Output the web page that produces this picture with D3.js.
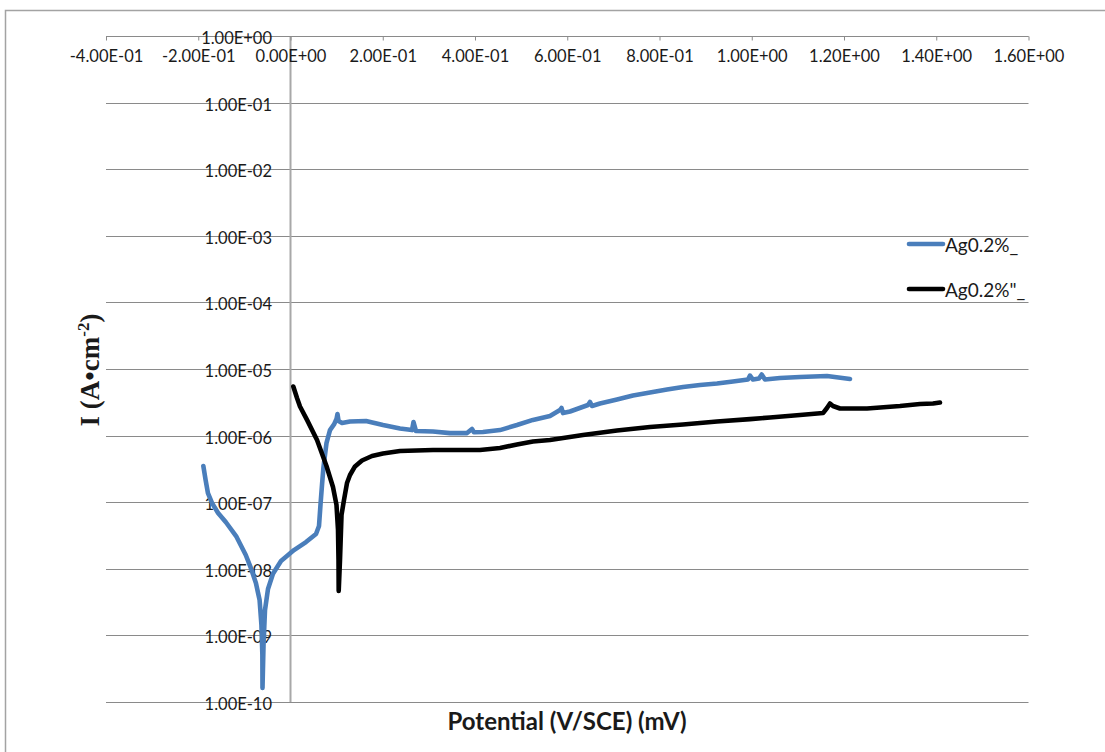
<!DOCTYPE html>
<html>
<head>
<meta charset="utf-8">
<script src="https://cdn.jsdelivr.net/npm/d3@7"></script>
<style>
  html, body { margin: 0; padding: 0; background: #fff; }
  svg { display: block; }
</style>
</head>
<body>
<svg id="chart" width="1105" height="752"></svg>
<script>
// Polarization curves: potential (V vs SCE) against current density (log scale)
const xTicks = [-0.4, -0.2, 0, 0.2, 0.4, 0.6, 0.8, 1.0, 1.2, 1.4, 1.6];
const yTicks = [1e0, 1e-1, 1e-2, 1e-3, 1e-4, 1e-5, 1e-6, 1e-7, 1e-8, 1e-9, 1e-10];
const seriesNames = ["Ag0.2%_", "Ag0.2%\"_"];
const seriesColors = ["#4a7ebb", "#000000"];

// Ag0.2%_ sweep
const potentialA = [-0.189, -0.184, -0.179, -0.170, -0.157, -0.140, -0.118, -0.097, -0.086, -0.075,
  -0.067, -0.063, -0.061, -0.0607, -0.0585, -0.0553, -0.0488, -0.038, -0.0206, 0.0076,
  0.0336, 0.0553, 0.0618, 0.065, 0.0683, 0.0715, 0.078, 0.0856, 0.0943, 0.0997,
  0.1019, 0.1041, 0.1117, 0.129, 0.1637, 0.2005, 0.2374, 0.2634, 0.2667, 0.2721,
  0.3089, 0.3458, 0.3827, 0.3935, 0.3978, 0.4173, 0.4542, 0.491, 0.5257, 0.5626,
  0.5843, 0.5875, 0.5908, 0.606, 0.645, 0.6493, 0.6537, 0.671, 0.7079, 0.7426,
  0.7794, 0.8163, 0.851, 0.8878, 0.9247, 0.9593, 0.9919, 0.9962, 1.0027, 1.0157,
  1.0216, 1.0287, 1.0612, 1.1046, 1.1631, 1.213];
const currentA = [3.50e-7, 2.15e-7, 1.37e-7, 9.7e-8, 6.9e-8, 5.0e-8, 3.1e-8, 1.61e-8, 1.03e-8, 6.1e-9,
  3.4e-9, 1.43e-9, 5.1e-10, 1.62e-10, 7.2e-10, 2.4e-9, 4.98e-9, 8.4e-9, 1.31e-8, 1.91e-8,
  2.52e-8, 3.33e-8, 4.4e-8, 9.1e-8, 1.81e-7, 3.38e-7, 7.7e-7, 1.21e-6, 1.47e-6, 1.77e-6,
  2.11e-6, 1.66e-6, 1.55e-6, 1.63e-6, 1.66e-6, 1.44e-6, 1.28e-6, 1.21e-6, 1.60e-6, 1.17e-6,
  1.15e-6, 1.09e-6, 1.09e-6, 1.26e-6, 1.12e-6, 1.13e-6, 1.21e-6, 1.44e-6, 1.72e-6, 1.97e-6,
  2.42e-6, 2.6e-6, 2.18e-6, 2.30e-6, 2.88e-6, 3.2e-6, 2.78e-6, 3.03e-6, 3.48e-6, 4.0e-6,
  4.44e-6, 4.92e-6, 5.37e-6, 5.75e-6, 6.06e-6, 6.49e-6, 6.95e-6, 7.98e-6, 6.95e-6, 7.2e-6,
  8.26e-6, 6.95e-6, 7.32e-6, 7.58e-6, 7.85e-6, 7.08e-6];

// Ag0.2%"_ sweep
const potentialB = [0.0061, 0.0141, 0.0206, 0.0358, 0.0575, 0.078, 0.0921, 0.0997, 0.103, 0.1041,
  0.1045, 0.1073, 0.1106, 0.116, 0.1225, 0.129, 0.1398, 0.155, 0.1767, 0.2005,
  0.2374, 0.3089, 0.4108, 0.4542, 0.491, 0.5257, 0.5626, 0.6341, 0.7079, 0.7794,
  0.851, 0.9247, 0.9962, 1.0396, 1.1046, 1.1545, 1.1631, 1.1696, 1.1761, 1.1913,
  1.2499, 1.3214, 1.3648, 1.393, 1.4081];
const currentB = [5.46e-6, 3.67e-6, 2.73e-6, 1.72e-6, 8.6e-7, 3.50e-7, 1.69e-7, 9.1e-8, 3.83e-8, 1.36e-8,
  4.64e-9, 1.36e-8, 6.43e-8, 1.08e-7, 1.94e-7, 2.56e-7, 3.44e-7, 4.23e-7, 4.94e-7, 5.38e-7,
  5.87e-7, 6.08e-7, 6.08e-7, 6.51e-7, 7.35e-7, 8.15e-7, 8.6e-7, 1.02e-6, 1.19e-6, 1.35e-6,
  1.47e-6, 1.63e-6, 1.77e-6, 1.87e-6, 2.04e-6, 2.18e-6, 2.6e-6, 3.03e-6, 2.78e-6, 2.55e-6,
  2.55e-6, 2.78e-6, 2.98e-6, 3.03e-6, 3.14e-6];

const svg = d3.select("#chart");
const W = 1105, H = 752;
const tickFont = "Lato, 'Open Sans', sans-serif";
const textColor = "#1a1a1a";
const gridColor = "#8a8a8a";

// Outer chart frame
svg.append("path")
  .attr("d", `M5.5,${H} V10.5 H${W}`)
  .attr("fill", "none")
  .attr("stroke", "#a3a3a3")
  .attr("stroke-width", 1.5);

const x = d3.scaleLinear().domain([-0.4, 1.6]).range([106, 1028.5]);
const y = d3.scaleLog().domain([1e-10, 1]).range([702, 36]);

const sci = v => {
  const s = (Math.abs(v) < 1e-12 ? 0 : v).toExponential(2).toUpperCase();
  return s.replace(/E([+-])(\d)$/, "E$10$2");
};

// Horizontal decade gridlines
svg.append("g").selectAll("line")
  .data(yTicks)
  .join("line")
  .attr("x1", x(-0.4)).attr("x2", x(1.6))
  .attr("y1", d => Math.round(y(d)) + 0.5).attr("y2", d => Math.round(y(d)) + 0.5)
  .attr("stroke", gridColor)
  .attr("stroke-width", 1);

// Vertical axis at 0 V
svg.append("line")
  .attr("x1", x(0)).attr("x2", x(0))
  .attr("y1", y(1)).attr("y2", y(1e-10))
  .attr("stroke", "#a8a8a8")
  .attr("stroke-width", 2);

// Potential axis along the top decade line
const xAxis = d3.axisBottom(x)
  .tickValues(xTicks)
  .tickSize(4)
  .tickPadding(10)
  .tickFormat(sci);
const gx = svg.append("g")
  .attr("transform", `translate(0,${Math.round(y(1)) + 0.5})`)
  .call(xAxis);
gx.select(".domain").attr("stroke", gridColor).attr("d", `M${x(-0.4)},0H${x(1.6)}`);
gx.selectAll(".tick line").attr("stroke", gridColor);
gx.selectAll(".tick text")
  .attr("fill", textColor)
  .style("font-family", tickFont)
  .style("font-size", "16.5px");

// Current-density labels beside the 0 V axis
svg.append("g").selectAll("text")
  .data(yTicks)
  .join("text")
  .attr("x", 272)
  .attr("y", d => y(d) + 8)
  .attr("text-anchor", "end")
  .attr("fill", textColor)
  .style("font-family", tickFont)
  .style("font-size", "16.5px")
  .text(sci);

// Curves
const line = d3.line()
  .x(d => x(d[0]))
  .y(d => y(d[1]));

const seriesData = [
  d3.zip(potentialA, currentA),
  d3.zip(potentialB, currentB)
];

svg.append("g").selectAll("path")
  .data(seriesData)
  .join("path")
  .attr("d", line)
  .attr("fill", "none")
  .attr("stroke", (d, i) => seriesColors[i])
  .attr("stroke-width", 4.6)
  .attr("stroke-linejoin", "round")
  .attr("stroke-linecap", "round");

// Legend
const legend = svg.append("g").selectAll("g")
  .data(seriesNames)
  .join("g")
  .attr("transform", (d, i) => `translate(909,${244 + i * 45})`);
legend.append("line")
  .attr("x1", 0).attr("x2", 34)
  .attr("y1", 0).attr("y2", 0)
  .attr("stroke", (d, i) => seriesColors[i])
  .attr("stroke-width", 4.6)
  .attr("stroke-linecap", "round");
legend.append("text")
  .attr("x", 36)
  .attr("y", 8)
  .attr("fill", textColor)
  .style("font-family", tickFont)
  .style("font-size", "19px")
  .text(d => d);

// Axis titles
svg.append("text")
  .attr("x", 567)
  .attr("y", 730)
  .attr("text-anchor", "middle")
  .attr("fill", textColor)
  .style("font-family", tickFont)
  .style("font-weight", "bold")
  .style("font-size", "24px")
  .text("Potential (V/SCE) (mV)");

const yTitle = svg.append("text")
  .attr("transform", "translate(99,370) rotate(-90)")
  .attr("text-anchor", "middle")
  .attr("fill", textColor)
  .style("font-family", "'Liberation Serif', 'Times New Roman', serif")
  .style("font-weight", "bold")
  .style("font-size", "27px");
yTitle.append("tspan").text("I (A\u2022cm");
yTitle.append("tspan").attr("dy", -10).style("font-size", "17px").text("-2");
yTitle.append("tspan").attr("dy", 10).text(")");
</script>
</body>
</html>
